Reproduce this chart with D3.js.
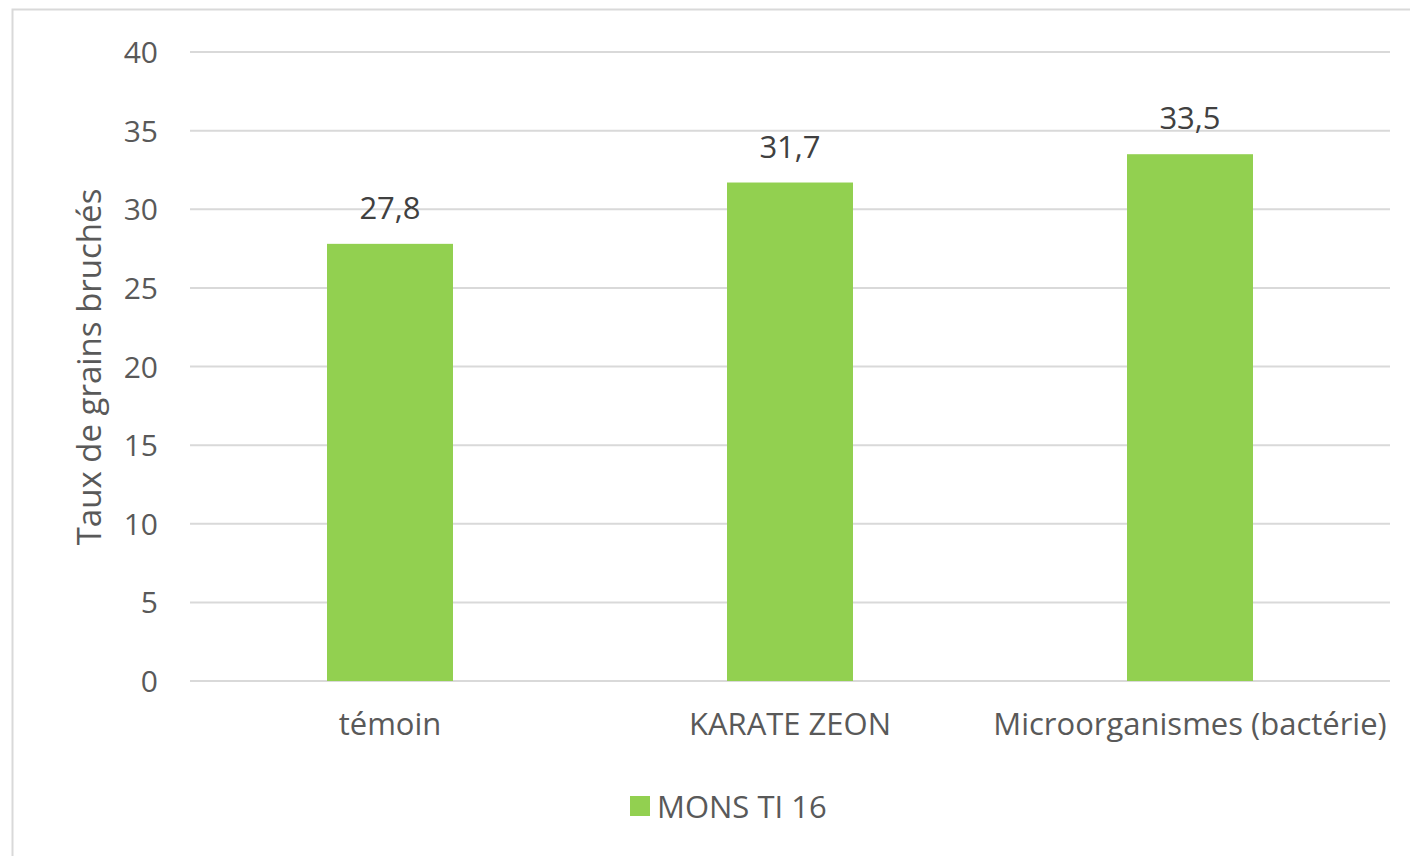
<!DOCTYPE html>
<html><head><meta charset="utf-8">
<script src="https://cdn.jsdelivr.net/npm/d3@7"></script>
<style>body{margin:0;background:#fff;}svg{display:block;}</style>
</head><body>
<svg id="c" width="1410" height="856"></svg>
<script>
const categories = ["témoin", "KARATE ZEON", "Microorganismes (bactérie)"];
const values = [27.8, 31.7, 33.5];
const valueLabels = ["27,8", "31,7", "33,5"];
const yTicks = [0, 5, 10, 15, 20, 25, 30, 35, 40];
const seriesName = "MONS TI 16";
const yTitle = "Taux de grains bruchés";

const svg = d3.select("#c");
const font = "'Open Sans', sans-serif";
const txt = "#595959";
const barColor = "#92D050";

svg.append("rect").attr("x", 12.5).attr("y", 9.5).attr("width", 1420).attr("height", 870)
  .attr("fill", "#fff").attr("stroke", "#d9d9d9").attr("stroke-width", 2);

const x = d3.scaleBand().domain(categories).range([190, 1390]).paddingInner(0.685).paddingOuter(0.3425);
const y = d3.scaleLinear().domain([0, 40]).range([681, 52]);

const g = svg.append("g");
g.selectAll("line.grid").data(yTicks).join("line")
  .attr("x1", 190).attr("x2", 1390)
  .attr("y1", d => y(d)).attr("y2", d => y(d))
  .attr("stroke", "#d9d9d9").attr("stroke-width", 2);

const yAxis = d3.axisLeft(y).tickValues(yTicks).tickSize(0).tickPadding(0);
const ya = svg.append("g").attr("transform", "translate(158,0)").call(yAxis);
ya.select(".domain").remove();
ya.selectAll("text").attr("font-family", font).attr("font-size", 30).attr("fill", txt).attr("dy", "0.35em");

g.selectAll("rect.bar").data(values).join("rect")
  .attr("x", (d, i) => x(categories[i])).attr("width", x.bandwidth())
  .attr("y", d => y(d)).attr("height", d => y(0) - y(d))
  .attr("fill", barColor);

g.selectAll("text.val").data(values).join("text")
  .attr("x", (d, i) => x(categories[i]) + x.bandwidth() / 2)
  .attr("y", d => y(d) - 37)
  .attr("text-anchor", "middle").attr("dominant-baseline", "central")
  .attr("font-family", font).attr("font-size", 31).attr("fill", "#404040")
  .text((d, i) => valueLabels[i]);

const xAxis = d3.axisBottom(x).tickSize(0).tickPadding(0);
const xa = svg.append("g").attr("transform", "translate(0,724)").call(xAxis);
xa.select(".domain").remove();
xa.selectAll("text").attr("font-family", font).attr("font-size", 31).attr("fill", txt)
  .attr("dy", "0.35em").attr("y", 0);

svg.append("text").attr("transform", "translate(88,367) rotate(-90)")
  .attr("text-anchor", "middle").attr("dominant-baseline", "central")
  .attr("font-family", font).attr("font-size", 33).attr("fill", txt).text(yTitle);

svg.append("rect").attr("x", 630).attr("y", 796).attr("width", 20).attr("height", 20).attr("fill", barColor);
svg.append("text").attr("x", 657).attr("y", 806).attr("dominant-baseline", "central")
  .attr("font-family", font).attr("font-size", 31).attr("fill", txt).text(seriesName);
</script>
</body></html>
